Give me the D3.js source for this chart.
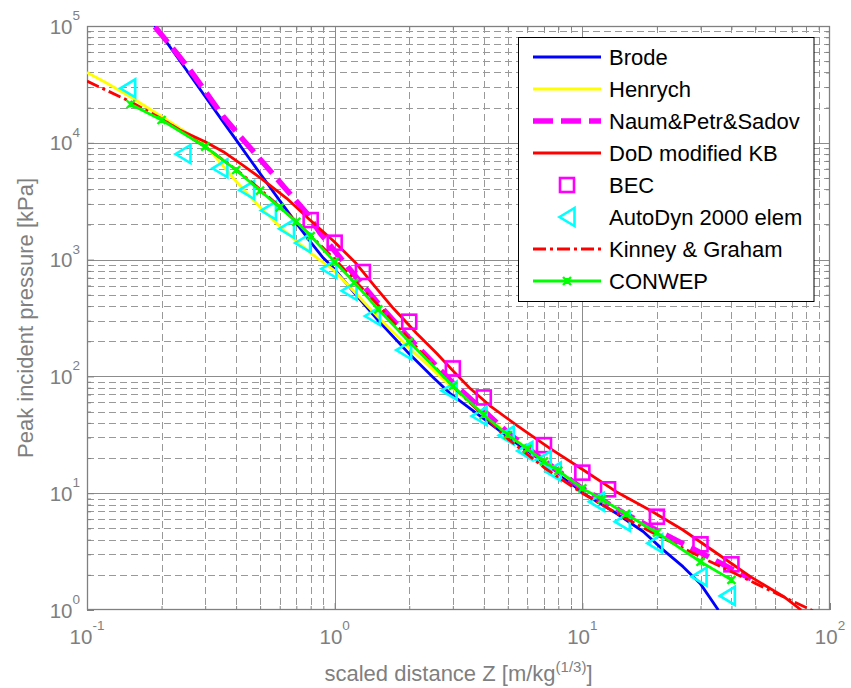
<!DOCTYPE html>
<html><head><meta charset="utf-8">
<script src="https://cdn.jsdelivr.net/npm/d3@7"></script>
<style>
body{margin:0;background:#fff}
svg{display:block}
text{font-family:"Liberation Sans",Arial,Helvetica,sans-serif}
</style>
</head><body>
<svg id="chart" width="851" height="688"></svg>
<script>
// ---------------- data ----------------
const xTickExp = [-1, 0, 1, 2];
const yTickExp = [0, 1, 2, 3, 4, 5];

const brodeZ = [0.188,0.22,0.25,0.3,0.35,0.4,0.45,0.5,0.6,0.7,0.8,0.9,1.0,1.2,1.5,2.0,2.5,2.92,3.98,5.43,7.4,10.1,13.7,17.6,21.2,25.5,29.9,35.4];
const brodeP = [100900,63000,43000,24900,15700,10600,7450,5460,3200,2050,1410,1030,826,519,301,156,97.8,71.6,43.8,26.7,16.9,9.97,6.73,4.7,3.27,2.35,1.69,1.0];

const henrychZ = [0.1,0.12,0.15,0.2,0.25,0.3,0.4,0.5,0.6,0.7,0.8,1.0,1.5,2,3,5,7,10];
const henrychP = [40000,32550,24660,16810,12370,9590,4670,2810,1926,1438,1138,800,321,175,79.2,32,18.7,11.0];

const nauZ = [0.188,0.2303,0.2605,0.3043,0.355,0.4276,0.5315,0.64,0.772,0.873,1.0,1.2,1.5,2,3,5,7,10,15,20,30,40,48];
const nauP = [98700,58400,42000,26550,16750,10570,6240,3945,2490,1690,1185,742,420,212,88,33,19,11.0,6.6,4.8,3.1,2.25,1.85];

const dodZ = [0.197,0.237,0.30,0.355,0.428,0.515,0.64,0.795,0.987,1.22,1.455,1.725,2.14,2.58,3.0,3.5,4.24,5.42,7.40,10.1,13.7,18.7,25.5,34.9,47.7,65.1,76.5];
const dodP = [16200,12880,10220,8390,6370,4800,3350,2185,1452,930,586,383,234,158,112,80,56,38.3,24.2,15.8,10.3,7.18,4.84,3.06,1.93,1.30,1.0];

const becZ = [0.8,1.0,1.3,2.0,3.0,4.0,7.0,10,12.7,20,30,40];
const becP = [2180,1396,783,294,117,66,25.8,15.0,10.8,6.29,3.65,2.46];

const autoZ = [0.146,0.244,0.344,0.441,0.540,0.639,0.742,0.947,1.143,1.42,1.90,2.90,3.83,4.93,5.86,6.95,7.63,11.4,14.5,19.6,29.6,38.5];
const autoP = [29300,8020,6050,3940,2630,1835,1387,834,541,329,168,75.5,45.8,31.2,23.0,19.2,15.3,8.46,5.70,3.72,1.93,1.32];

const kgZ = [0.1,0.15,0.2,0.3,0.4,0.5,0.7,1.0,1.5,2,3,5,7,10,15,20,30,50,70,88];
const kgP = [33730,22480,16060,9250,5890,4000,2120,1009,406,208,82.3,29.2,16.6,9.98,6.07,4.39,2.85,1.69,1.20,0.955];

const conZ = [0.15,0.2,0.3,0.4,0.5,0.6,0.7,0.8,1.0,1.2,1.5,2,3,4,5,6,7,8,10,12,15,20,30,40];
const conP = [21380,15670,9260,5850,3890,2800,2110,1590,959,636,375,198,82.7,46.7,31.5,24.0,18.7,15.6,11.0,8.87,6.64,4.59,2.59,1.81];

const legendLabels = ["Brode","Henrych","Naum&Petr&Sadov","DoD modified KB","BEC","AutoDyn 2000 elem","Kinney & Graham","CONWEP"];

// ---------------- setup ----------------
const svg = d3.select("#chart");
const L = 87, R = 830, T = 26, B = 610;
const x = d3.scaleLog().domain([0.1, 100]).range([L, R]);
const y = d3.scaleLog().domain([1, 1e5]).range([B, T]);
const zip = (a, b) => a.map((v, i) => ({z: v, p: b[i]}));

const xMajor = xTickExp.map(e => Math.pow(10, e));
const yMajor = yTickExp.map(e => Math.pow(10, e));
const minorOf = majors => {
  const out = [];
  majors.slice(0, -1).forEach(d => { for (let k = 2; k <= 9; k++) out.push(+(k * d).toPrecision(3)); });
  return out;
};
const xMinor = minorOf(xMajor), yMinor = minorOf(yMajor);
const px = v => Math.round(v) + 0.5;

// ---------------- grid ----------------
const grid = svg.append("g");
grid.selectAll("line.xm").data(xMinor).enter().append("line")
  .attr("x1", d => px(x(d))).attr("x2", d => px(x(d))).attr("y1", T).attr("y2", B)
  .attr("stroke", "#999").attr("stroke-width", 1).attr("stroke-dasharray", "7,4");
grid.selectAll("line.ym").data(yMinor).enter().append("line")
  .attr("y1", d => px(y(d))).attr("y2", d => px(y(d))).attr("x1", L).attr("x2", R)
  .attr("stroke", "#999").attr("stroke-width", 1).attr("stroke-dasharray", "7,4");
grid.selectAll("line.xM").data(xMajor.slice(1, -1)).enter().append("line")
  .attr("x1", d => px(x(d))).attr("x2", d => px(x(d))).attr("y1", T).attr("y2", B)
  .attr("stroke", "#8c8c8c").attr("stroke-width", 1);
grid.selectAll("line.yM").data(yMajor.slice(1, -1)).enter().append("line")
  .attr("y1", d => px(y(d))).attr("y2", d => px(y(d))).attr("x1", L).attr("x2", R)
  .attr("stroke", "#8c8c8c").attr("stroke-width", 1);

// ---------------- axes (ticks inward on all sides) ----------------
const axCol = "#808080";
function styleAxis(g){ g.select(".domain").remove(); g.selectAll("line").attr("stroke", axCol); g.selectAll("text").remove(); }
svg.append("g").attr("transform", `translate(0,${B})`).call(d3.axisBottom(x).tickValues(xMinor).tickSize(-4).tickFormat("")).call(styleAxis);
svg.append("g").attr("transform", `translate(0,${T})`).call(d3.axisTop(x).tickValues(xMinor).tickSize(-4).tickFormat("")).call(styleAxis);
svg.append("g").attr("transform", `translate(${L},0)`).call(d3.axisLeft(y).tickValues(yMinor).tickSize(-4).tickFormat("")).call(styleAxis);
svg.append("g").attr("transform", `translate(${R},0)`).call(d3.axisRight(y).tickValues(yMinor).tickSize(-4).tickFormat("")).call(styleAxis);
svg.append("g").attr("transform", `translate(0,${B})`).call(d3.axisBottom(x).tickValues(xMajor).tickSize(-7).tickFormat("")).call(styleAxis);
svg.append("g").attr("transform", `translate(${L},0)`).call(d3.axisLeft(y).tickValues(yMajor).tickSize(-7).tickFormat("")).call(styleAxis);

svg.append("rect").attr("x", L + 0.5).attr("y", T + 0.5).attr("width", R - L - 1).attr("height", B - T - 1)
  .attr("fill", "none").attr("stroke", axCol).attr("stroke-width", 1.3);

// tick labels
const tl = svg.append("g").attr("fill", "#7f7f7f");
xTickExp.forEach(e => {
  const t = tl.append("text").attr("x", x(Math.pow(10, e))).attr("y", 644).attr("text-anchor", "middle").attr("font-size", 20.5);
  t.append("tspan").text("10");
  t.append("tspan").attr("font-size", 13.5).attr("dy", -14).text(e);
});
yTickExp.forEach(e => {
  const t = tl.append("text").attr("x", 80).attr("y", y(Math.pow(10, e)) + 7.5).attr("text-anchor", "end").attr("font-size", 20.5);
  t.append("tspan").text("10");
  t.append("tspan").attr("font-size", 13.5).attr("dy", -13.5).text(e);
});

// axis titles
const xt = svg.append("text").attr("x", (L + R) / 2).attr("y", 681).attr("text-anchor", "middle")
  .attr("font-size", 22).attr("fill", "#7f7f7f");
xt.append("tspan").text("scaled distance Z [m/kg");
xt.append("tspan").attr("font-size", 15).attr("dy", -9).text("(1/3)");
xt.append("tspan").attr("dy", 9).text("]");
svg.append("text").attr("transform", `translate(33,${(T + B) / 2}) rotate(-90)`).attr("text-anchor", "middle")
  .attr("font-size", 22).attr("fill", "#7f7f7f").text("Peak incident pressure [kPa]");

// ---------------- series ----------------
svg.append("clipPath").attr("id", "clip").append("rect").attr("x", L).attr("y", T).attr("width", R - L).attr("height", B - T);
const plot = svg.append("g").attr("clip-path", "url(#clip)");
const line = d3.line().x(d => x(d.z)).y(d => y(d.p));

const styles = {
  brode:  {stroke: "#0000ff", w: 2.8, dash: null},
  henrych:{stroke: "#ffff00", w: 2.8, dash: null},
  nau:    {stroke: "#ff00ff", w: 5.5, dash: "20,8"},
  dod:    {stroke: "#ff0000", w: 2.8, dash: null},
  kg:     {stroke: "#ff0000", w: 2.8, dash: "13,4,3,4"},
  con:    {stroke: "#00ff00", w: 2.8, dash: null}
};
function drawLine(g, data, s){
  g.append("path").datum(data).attr("d", line).attr("fill", "none")
    .attr("stroke", s.stroke).attr("stroke-width", s.w).attr("stroke-dasharray", s.dash)
    .attr("stroke-linejoin", "round");
}
const sq = (g, cx, cy) => g.append("rect").attr("x", cx - 7).attr("y", cy - 7).attr("width", 14).attr("height", 14)
  .attr("fill", "none").attr("stroke", "#ff00ff").attr("stroke-width", 2.6);
const tri = (g, cx, cy) => g.append("path").attr("d", `M${cx - 7.5},${cy} L${cx + 7.5},${cy - 9} L${cx + 7.5},${cy + 9} Z`)
  .attr("fill", "none").attr("stroke", "#00ffff").attr("stroke-width", 2.6).attr("stroke-linejoin", "miter");
const xm = (g, cx, cy) => g.append("path").attr("d", `M${cx - 4},${cy - 4}L${cx + 4},${cy + 4}M${cx - 4},${cy + 4}L${cx + 4},${cy - 4}M${cx},${cy - 3}L${cx},${cy + 3}`)
  .attr("stroke", "#00ff00").attr("stroke-width", 2.4);

drawLine(plot, zip(brodeZ, brodeP), styles.brode);
drawLine(plot, zip(henrychZ, henrychP), styles.henrych);
drawLine(plot, zip(nauZ, nauP), styles.nau);
drawLine(plot, zip(dodZ, dodP), styles.dod);
const mk = svg.append("g");
zip(becZ, becP).forEach(d => sq(mk, x(d.z), y(d.p)));
zip(autoZ, autoP).forEach(d => tri(mk, x(d.z), y(d.p)));
const upper = svg.append("g").attr("clip-path", "url(#clip)");
drawLine(upper, zip(kgZ, kgP), styles.kg);
drawLine(upper, zip(conZ, conP), styles.con);
zip(conZ, conP).forEach(d => xm(upper, x(d.z), y(d.p)));

// ---------------- legend ----------------
const lg = svg.append("g");
lg.append("rect").attr("x", 518.5).attr("y", 37.5).attr("width", 295.5).attr("height", 264)
  .attr("fill", "#fff").attr("stroke", "#000").attr("stroke-width", 1);
const kinds = ["brode","henrych","nau","dod","bec","auto","kg","con"];
legendLabels.forEach((lab, i) => {
  const cy = 57 + 32 * i, k = kinds[i];
  if (styles[k]) {
    const s = styles[k];
    lg.append("line").attr("x1", 533).attr("x2", 601).attr("y1", cy).attr("y2", cy)
      .attr("stroke", s.stroke).attr("stroke-width", s.w).attr("stroke-dasharray", s.dash);
  }
  if (k === "bec") sq(lg, 567, cy);
  if (k === "auto") tri(lg, 567, cy);
  if (k === "con") xm(lg, 567, cy);
  lg.append("text").attr("x", 609).attr("y", cy + 8).attr("font-size", 22).attr("fill", "#000").text(lab);
});
</script>
</body></html>
